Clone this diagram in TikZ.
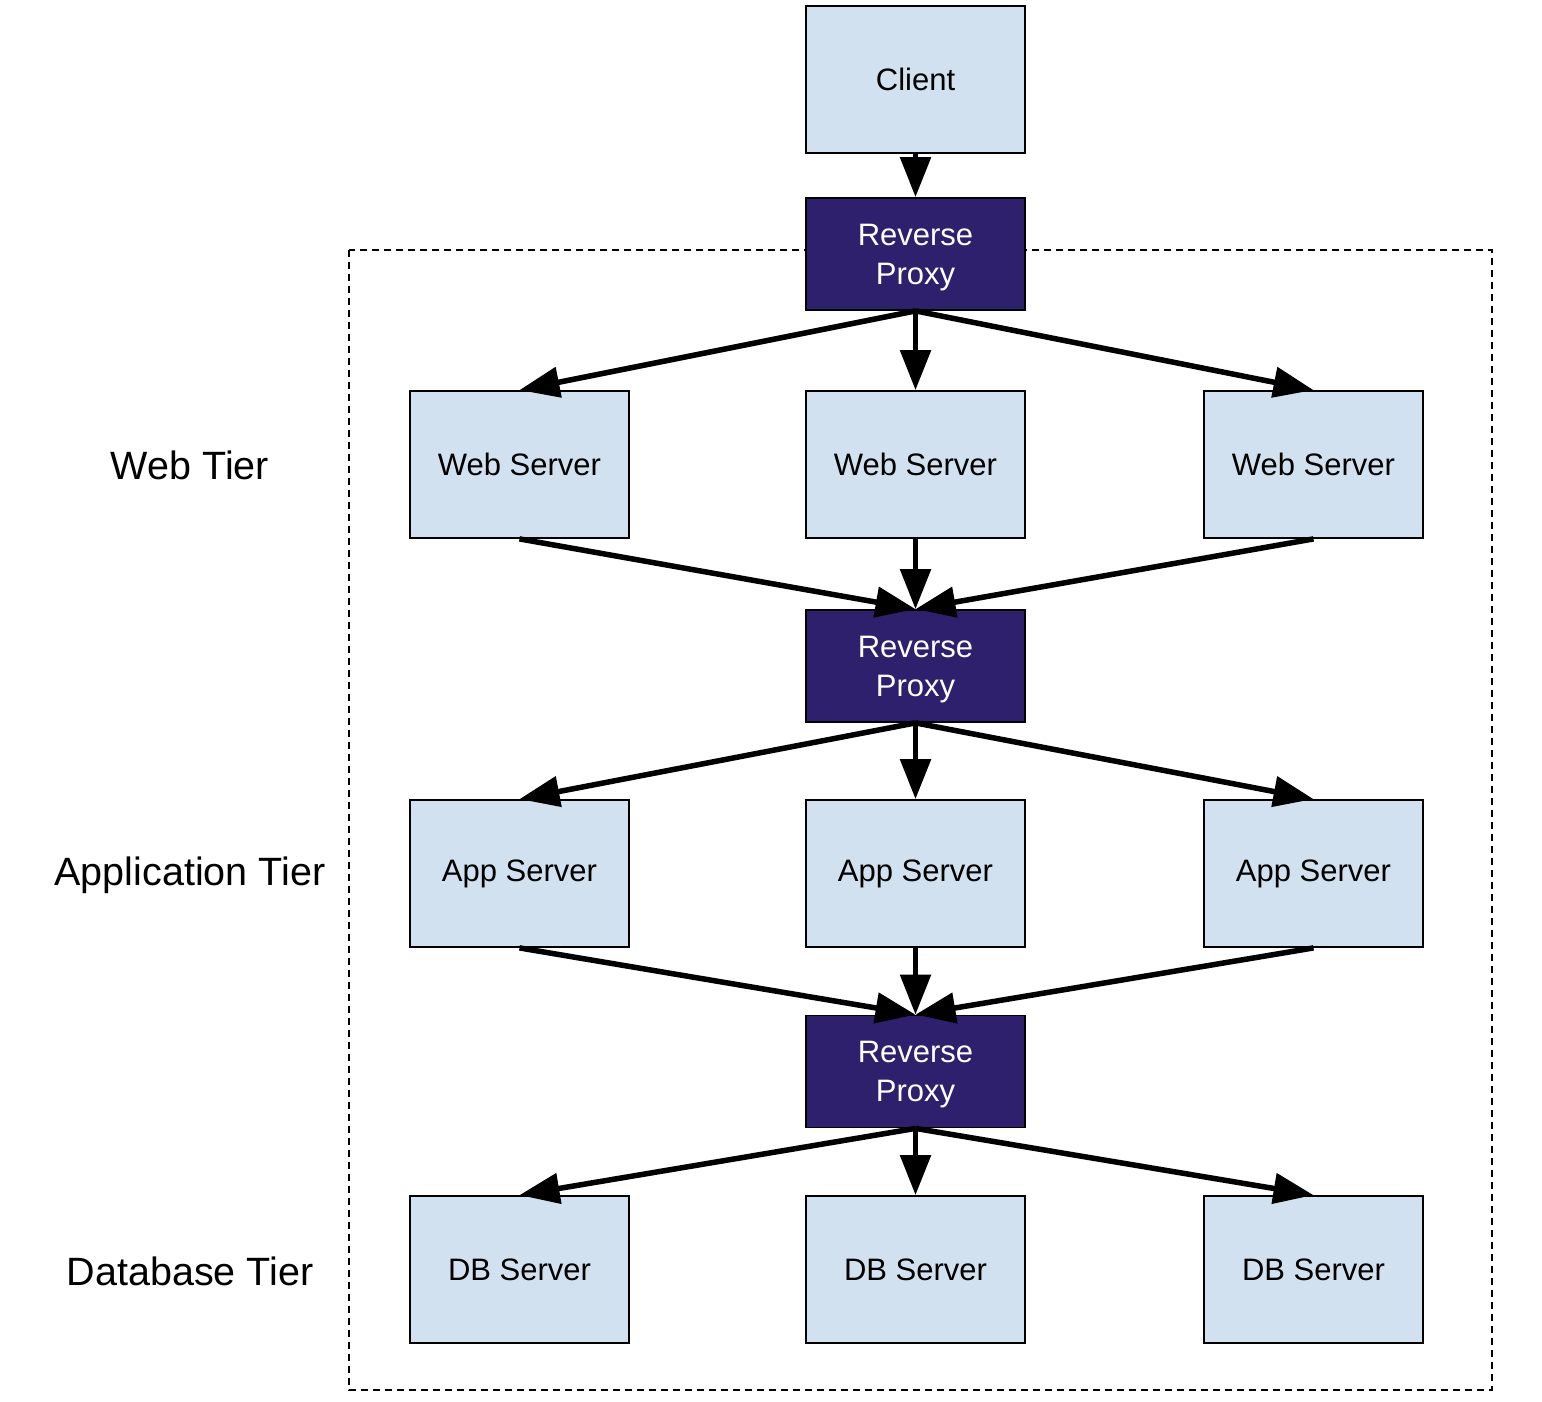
\documentclass[tikz,border=0pt]{standalone}
\usepackage{fontspec}
\setmainfont{Liberation Sans}
\usetikzlibrary{arrows.meta}
\definecolor{lightbox}{HTML}{D1E1EF}
\definecolor{darkbox}{HTML}{2F206D}
\begin{document}
\begin{tikzpicture}[x=1pt,y=-1pt,
  srv/.style={draw=black,line width=1.8pt,fill=lightbox,minimum width=219pt,minimum height=147pt,inner sep=0pt,font=\fontsize{31}{38}\selectfont,text=black},
  proxy/.style={draw=black,line width=1.8pt,fill=darkbox,minimum width=219pt,minimum height=112pt,inner sep=0pt,font=\fontsize{31}{39}\selectfont,text=white,align=center,text depth=0pt},
  tier/.style={font=\fontsize{39.5}{46}\selectfont,inner sep=0pt},
  conn/.style={line width=5.5pt,-{Triangle[length=40pt,width=30pt]}},
  box/.style={draw=black,line width=1.6pt,dash pattern=on 7pt off 5pt}]
\useasboundingbox (0,0) rectangle (1542,1402);
\draw[box] (349,250) rectangle (1492,1390);
\node[srv] (client) at (915.5,79.5) {Client};
\node[proxy] (rp1) at (915.5,254) {Reverse\\Proxy};
\node[srv] (w1) at (519.5,464.5) {Web Server};
\node[srv] (w2) at (915.5,464.5) {Web Server};
\node[srv] (w3) at (1313.5,464.5) {Web Server};
\node[proxy] (rp2) at (915.5,666) {Reverse\\Proxy};
\node[srv] (a1) at (519.5,873.5) {App Server};
\node[srv] (a2) at (915.5,873.5) {App Server};
\node[srv] (a3) at (1313.5,873.5) {App Server};
\node[proxy] (rp3) at (915.5,1071.5) {Reverse\\Proxy};
\node[srv] (d1) at (519.5,1269.5) {DB Server};
\node[srv] (d2) at (915.5,1269.5) {DB Server};
\node[srv] (d3) at (1313.5,1269.5) {DB Server};
\node[tier] (t1) at (190,465) {Web Tier};
\node[tier] (t2) at (190,875) {Application Tier};
\node[tier] (t3) at (190,1271) {Database Tier};
\draw[conn] (client.south) -- (rp1.north);
\foreach \p/\a/\b/\c in {rp1/w1/w2/w3, rp2/a1/a2/a3, rp3/d1/d2/d3}{
  \draw[conn] (\p.south) -- (\a.north);
  \draw[conn] (\p.south) -- (\b.north);
  \draw[conn] (\p.south) -- (\c.north);
}
\foreach \p/\a/\b/\c in {rp2/w1/w2/w3, rp3/a1/a2/a3}{
  \draw[conn] (\a.south) -- (\p.north);
  \draw[conn] (\b.south) -- (\p.north);
  \draw[conn] (\c.south) -- (\p.north);
}
\end{tikzpicture}
\end{document}
